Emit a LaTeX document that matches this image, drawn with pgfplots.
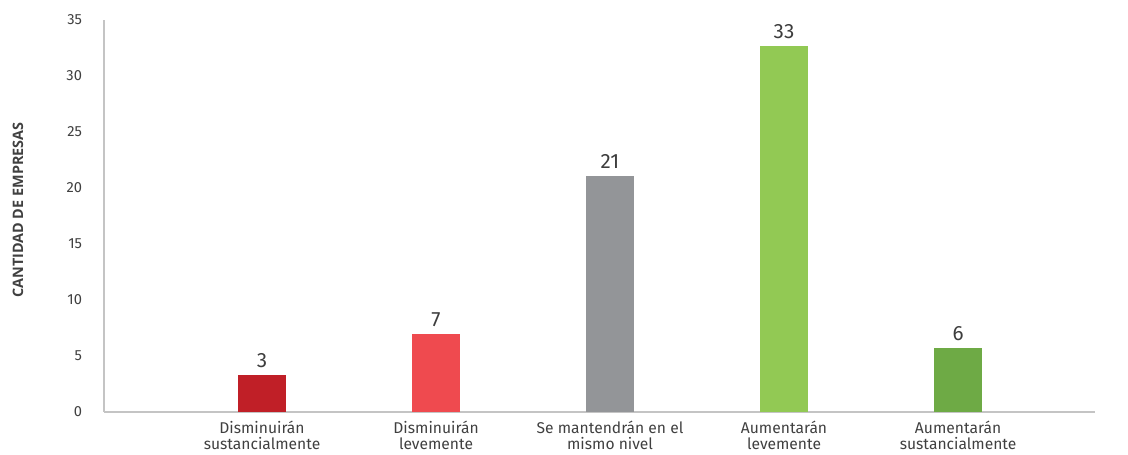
\documentclass[border=0pt]{standalone}
\usepackage{fontspec}
\setmainfont{Fira Sans}
\newfontfamily\labfont{Open Sans}
\usepackage{pgfplots}
\pgfplotsset{compat=1.18}

\definecolor{txt}{HTML}{404040}
\definecolor{ejes}{HTML}{C4C4C4}
\definecolor{rojoA}{HTML}{C01F27}
\definecolor{rojoB}{HTML}{EF4A4F}
\definecolor{gris}{HTML}{939598}
\definecolor{verdeA}{HTML}{92C954}
\definecolor{verdeB}{HTML}{6EAA45}

\begin{document}
\begin{tikzpicture}
\begin{axis}[
    scale only axis,
    width=743.25pt, height=294pt,
    xmin=-0.908, xmax=4.787,
    ymin=0, ymax=35,
    ybar, bar width=36pt, bar shift=0pt,
    axis x line*=bottom, axis y line*=left,
    axis line style={draw=ejes, line width=1.6pt},
    major tick length=0pt,
    /pgf/number format/assume math mode=true,
    ytick={0,5,...,35},
    xtick={0,1,2,3,4},
    xticklabels={{Disminuirán\\sustancialmente},{Disminuirán\\levemente},{Se mantendrán en el\\mismo nivel},{Aumentarán\\levemente},{Aumentarán\\sustancialmente}},
    xticklabel style={align=center, font=\fontsize{11.7}{12.4}\selectfont, text=txt, yshift=-3pt},
    yticklabel style={font=\fontsize{11}{13}\selectfont, text=txt, xshift=-13pt},
    ylabel={CANTIDAD DE EMPRESAS},
    ylabel style={at={(axis description cs:-0.0868,0.515)}, anchor=center, font=\labfont\bfseries\fontsize{10.8}{12}\selectfont, text=txt},
    point meta=explicit symbolic,
    nodes near coords,
    nodes near coords style={font=\fontsize{15.5}{17}\selectfont, text=txt!95!black, yshift=2pt},
    clip=false,
]
\addplot[fill=rojoA, draw=none] coordinates {(0,3.3) [3]};
\addplot[fill=rojoB, draw=none] coordinates {(1,6.95) [7]};
\addplot[fill=gris, draw=none] coordinates {(2,21.05) [21]};
\addplot[fill=verdeA, draw=none] coordinates {(3,32.7) [33]};
\addplot[fill=verdeB, draw=none] coordinates {(4,5.7) [6]};
\end{axis}
\pgfresetboundingbox
\path (current axis.south west) ++(-78pt,-32.25pt) coordinate (bl);
\path (current axis.north east) ++(24.75pt,15pt) coordinate (tr);
\path[use as bounding box] (bl) rectangle (tr);
\end{tikzpicture}
\end{document}
